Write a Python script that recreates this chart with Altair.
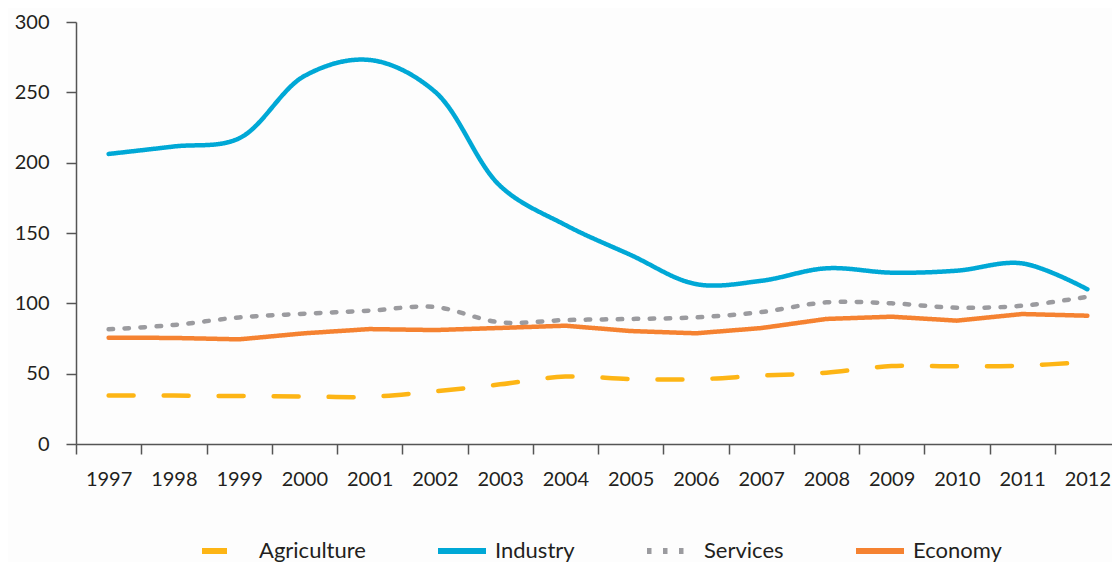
import altair as alt
import pandas as pd

years = [str(y) for y in range(1997, 2013)]
agriculture = [34.4, 34.4, 34.1, 33.8, 33.5, 37.5, 42.4, 47.9, 46.2, 46.0, 48.6, 50.7, 55.4, 55.2, 55.7, 58.3]
industry = [206.2, 211.5, 217.3, 261.6, 273.0, 250.5, 183.5, 155.7, 134.4, 113.7, 116.0, 124.9, 121.8, 123.2, 128.4, 110.0]
services = [81.5, 84.6, 90.0, 92.6, 94.8, 97.4, 86.5, 88.1, 88.9, 90.0, 93.8, 100.7, 100.0, 96.9, 98.3, 104.7]
economy = [75.6, 75.4, 74.4, 78.7, 81.7, 81.0, 82.5, 84.1, 80.3, 78.7, 82.4, 88.9, 90.5, 87.7, 92.4, 91.2]

series_names = ["Agriculture", "Industry", "Services", "Economy"]
series_values = [agriculture, industry, services, economy]
colors = ["#FDB515", "#00A8D6", "#9B9B9F", "#F58231"]
dashes = [[25, 30], [1, 0], [4.5, 11.5], [1, 0]]

rows = []
for name, vals in zip(series_names, series_values):
    for y, v in zip(years, vals):
        rows.append({"year": y, "value": v, "series": name})
df = pd.DataFrame(rows)

FONT = "Lato"

x_enc = alt.X(
    "year:O",
    sort=years,
    scale=alt.Scale(range=[0, 1044], paddingInner=0, paddingOuter=0),
    axis=alt.Axis(
        title=None, labelAngle=0, tickBand="extent", tickSize=10,
        labelPadding=15, labelFontSize=20, labelFont=FONT, labelColor="#231F20",
        domainColor="#555555", tickColor="#555555", domainWidth=1.5, tickWidth=1.5,
    ),
)
y_enc = alt.Y(
    "value:Q",
    scale=alt.Scale(domain=[0, 300], nice=False),
    axis=alt.Axis(
        title=None, values=[0, 50, 100, 150, 200, 250, 300], grid=False,
        tickSize=10, labelPadding=17, labelFontSize=20, labelFont=FONT,
        labelColor="#231F20", domainColor="#555555", tickColor="#555555",
        domainWidth=1.5, tickWidth=1.5,
    ),
)
legend_opts = dict(
    title=None, orient="none", legendX=123, legendY=502, direction="horizontal",
    symbolType="stroke", symbolSize=2304, symbolStrokeWidth=6,
    labelFontSize=22, labelFont=FONT, labelColor="#231F20",
    labelOffset=6, columnPadding=60,
)
color_enc = alt.Color(
    "series:N",
    scale=alt.Scale(domain=series_names, range=colors),
    legend=alt.Legend(**legend_opts),
)
dash_enc = alt.StrokeDash(
    "series:N",
    scale=alt.Scale(domain=series_names, range=dashes),
    legend=alt.Legend(**legend_opts),
)

base = alt.Chart(df).encode(x=x_enc, y=y_enc, color=color_enc, strokeDash=dash_enc)

smooth = base.transform_filter(
    alt.FieldOneOfPredicate(field="series", oneOf=["Agriculture", "Industry", "Services"])
).mark_line(interpolate="catmull-rom", strokeWidth=4.5, strokeCap="round")

straight = base.transform_filter(
    alt.FieldEqualPredicate(field="series", equal="Economy")
).mark_line(interpolate="linear", strokeWidth=4.5, strokeCap="round", strokeJoin="round")

chart = (
    alt.layer(smooth, straight)
    .properties(
        width=1036, height=422,
        autosize=alt.AutoSizeParams(type="none"),
        padding={"left": 68, "top": 14, "right": 0, "bottom": 118},
        background="#FDFDFD",
    )
    .configure_view(stroke=None)
)

chart.save("out.html", embed_options={"renderer": "svg", "actions": False})
